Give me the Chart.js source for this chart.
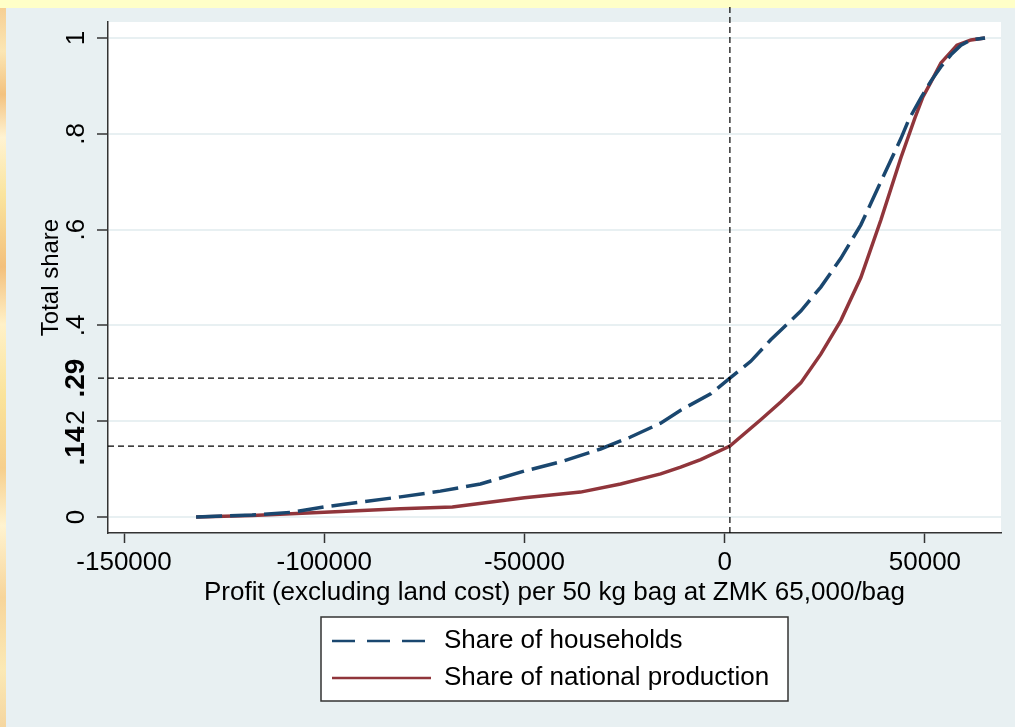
<!DOCTYPE html>
<html>
<head>
<meta charset="utf-8">
<script src="https://cdn.jsdelivr.net/npm/chart.js@4.4.1/dist/chart.umd.min.js"></script>
<style>
  html, body { margin: 0; padding: 0; }
  body { width: 1015px; height: 727px; background: #e8f0f2; position: relative; overflow: hidden; }
  #band { position: absolute; left: 0; top: 0; width: 1015px; height: 8px; background: #ffffc8; }
  #strip { position: absolute; left: 0; top: 8px; width: 6px; height: 719px;
    background: linear-gradient(to bottom, #f6cf94 0%, #fbe6b4 6%, #f3c27f 12%, #fff3d2 18%, #fae49e 26%,
      #f3c07c 36%, #fff1c8 44%, #fae39a 54%, #f6cf8c 64%, #fff3d0 72%, #f7d59a 82%, #fbe9b5 92%, #f5d6a0 100%); }
  #wrap { position: absolute; left: 0; top: 0; width: 1015px; height: 727px; }
</style>
</head>
<body>
<div id="band"></div>
<div id="strip"></div>
<div id="wrap"><canvas id="shareChart"></canvas></div>
<script>
// cumulative shares
var householdsX = [-132000, -118000, -108000, -100000, -91000, -81000, -71000, -61000, -50000, -41000,
  -31000, -23500, -16000, -11000, -3500, 1300, 6500, 11500, 14000, 19000,
  24000, 29000, 34000, 39000, 44000, 46000, 49000, 51500, 54000, 56500,
  59000, 61500, 65000];
var householdsY = [0, 0.004, 0.010, 0.021, 0.031, 0.042, 0.054, 0.069, 0.096, 0.115,
  0.142, 0.167, 0.196, 0.223, 0.257, 0.290, 0.325, 0.370, 0.390, 0.430,
  0.480, 0.540, 0.610, 0.700, 0.790, 0.830, 0.875, 0.910, 0.940, 0.965,
  0.985, 0.996, 1.0];

var productionX = [-132000, -118000, -100000, -81000, -68000, -50000, -36000, -26000, -16000, -11000,
  -6000, 1300, 9000, 14000, 19000, 24000, 29000, 34000, 39000, 44000,
  47500, 49500, 51500, 54000, 56500, 58000, 61500, 65000];
var productionY = [0, 0.003, 0.010, 0.017, 0.021, 0.040, 0.052, 0.069, 0.090, 0.104,
  0.120, 0.148, 0.203, 0.240, 0.280, 0.340, 0.410, 0.500, 0.620, 0.750,
  0.833, 0.877, 0.908, 0.948, 0.971, 0.985, 0.996, 1.0];

var xTickValues = [-150000, -100000, -50000, 0, 50000];
var yTickValues = [0, 0.2, 0.4, 0.6, 0.8, 1];
var yTickLabels = ['0', '.2', '.4', '.6', '.8', '1'];
var refYValues = [0.29, 0.148];
var refYLabels = ['.29', '.14'];
var profitCutoff = 1300;

var FONT = "'Liberation Sans', Arial, sans-serif";
var bgColor = '#e8f0f2';

function toPoints(xs, ys) {
  return xs.map(function(x, i) { return {x: x, y: ys[i]}; });
}
function refIndex(v) {
  for (var i = 0; i < refYValues.length; i++) if (Math.abs(refYValues[i] - v) < 1e-9) return i;
  return -1;
}
function yLabel(v) {
  var r = refIndex(v);
  if (r >= 0) return refYLabels[r];
  for (var i = 0; i < yTickValues.length; i++) if (Math.abs(yTickValues[i] - v) < 1e-9) return yTickLabels[i];
  return '';
}
function isRefTick(ctx) { return ctx.tick && refIndex(ctx.tick.value) >= 0; }

// white plot region, boxed legend and the dashed guide lines
var stataFrame = {
  id: 'stataFrame',
  afterLayout: function(chart) {
    var lg = chart.legend, ca = chart.chartArea;
    var w = 467, cx = (ca.left + ca.right) / 2;
    lg.left = cx - w / 2; lg.right = cx + w / 2; lg.width = w;
    lg.top = 617; lg.bottom = 727; lg.height = 110;
  },
  beforeDraw: function(chart) {
    var ctx = chart.ctx, ca = chart.chartArea, lg = chart.legend;
    ctx.save();
    ctx.fillStyle = '#fff';
    ctx.fillRect(ca.left, ca.top, ca.right - ca.left, ca.bottom - ca.top);
    ctx.fillRect(lg.left, lg.top, lg.width, 84);
    ctx.strokeStyle = '#333';
    ctx.lineWidth = 1.5;
    ctx.strokeRect(lg.left, lg.top, lg.width, 84);
    ctx.restore();
  },
  afterDatasetsDraw: function(chart) {
    var ctx = chart.ctx, ca = chart.chartArea;
    var xs = chart.scales.x, ys = chart.scales.y;
    var px = xs.getPixelForValue(profitCutoff);
    ctx.save();
    ctx.strokeStyle = '#000';
    ctx.lineWidth = 1.2;
    ctx.setLineDash([6, 4]);
    ctx.beginPath();
    ctx.moveTo(px, 7);
    ctx.lineTo(px, ca.bottom);
    refYValues.forEach(function(v, i) {
      var py = ys.getPixelForValue(v);
      ctx.moveTo(i === 0 ? ca.left - 10 : ca.left, py);
      ctx.lineTo(px, py);
    });
    ctx.stroke();
    ctx.restore();
  }
};

Chart.defaults.animation = false;

new Chart(document.getElementById('shareChart'), {
  type: 'line',
  data: {
    datasets: [{
      label: 'Share of households',
      data: toPoints(householdsX, householdsY),
      borderColor: '#1a476f',
      backgroundColor: '#1a476f',
      borderWidth: 3.5,
      borderDash: [26, 8],
      pointRadius: 0,
      tension: 0
    }, {
      label: 'Share of national production',
      data: toPoints(productionX, productionY),
      borderColor: '#90353b',
      backgroundColor: '#90353b',
      borderWidth: 3.5,
      pointRadius: 0,
      tension: 0
    }]
  },
  options: {
    responsive: true,
    maintainAspectRatio: false,
    layout: { padding: { left: 6, top: 22, right: 14, bottom: 0 } },
    plugins: {
      tooltip: { enabled: false },
      legend: {
        position: 'chartArea',
        align: 'start',
        labels: {
          color: '#000',
          font: { family: FONT, size: 26 },
          boxWidth: 99,
          boxHeight: 0,
          padding: 11,
          generateLabels: function(chart) {
            var items = Chart.defaults.plugins.legend.labels.generateLabels(chart);
            items.forEach(function(it, i) {
              it.lineWidth = 2.5;
              it.lineDash = i === 0 ? [21, 14] : [];
              it.fillStyle = 'rgba(0,0,0,0)';
            });
            return items;
          }
        }
      }
    },
    scales: {
      x: {
        type: 'linear',
        min: -154000,
        max: 69000,
        afterBuildTicks: function(s) { s.ticks = xTickValues.map(function(v) { return {value: v}; }); },
        afterFit: function(s) { s.height = 194; },
        ticks: {
          autoSkip: false, maxRotation: 0, color: '#000', padding: 4,
          font: { family: FONT, size: 26 },
          callback: function(v) { return String(v); }
        },
        grid: { drawOnChartArea: false, tickLength: 10, tickColor: '#333', tickWidth: 1.5 },
        border: { color: '#333', width: 1.5 },
        title: {
          display: true,
          text: 'Profit (excluding land cost) per 50 kg bag at ZMK 65,000/bag',
          color: '#000',
          font: { family: FONT, size: 26 },
          padding: { top: 0, bottom: 119 }
        }
      },
      y: {
        type: 'linear',
        min: -0.0334,
        max: 1.0334,
        afterBuildTicks: function(s) {
          s.ticks = yTickValues.concat(refYValues).sort(function(a, b) { return a - b; })
            .map(function(v) { return {value: v}; });
        },
        afterFit: function(s) { s.width = 102; },
        ticks: {
          autoSkip: false, minRotation: 90, maxRotation: 90, crossAlign: 'center', padding: 1, color: '#000',
          font: function(ctx) {
            return isRefTick(ctx) ? { family: FONT, size: 28, weight: 'bold' } : { family: FONT, size: 26 };
          },
          callback: function(v) { return yLabel(v); }
        },
        grid: {
          color: function(ctx) { return isRefTick(ctx) ? 'rgba(0,0,0,0)' : bgColor; },
          lineWidth: 2,
          tickLength: 11,
          tickColor: function(ctx) { return isRefTick(ctx) ? 'rgba(0,0,0,0)' : '#333'; },
          tickWidth: 1.5
        },
        border: { color: '#333', width: 1.5 },
        title: {
          display: true,
          text: 'Total share',
          color: '#000',
          font: { family: FONT, size: 24 },
          padding: { top: 31, bottom: 0 }
        }
      }
    }
  },
  plugins: [stataFrame]
});
</script>
</body>
</html>
